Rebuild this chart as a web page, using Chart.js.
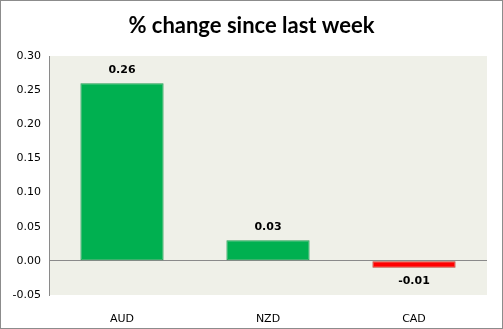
<!DOCTYPE html>
<html>
<head>
<meta charset="utf-8">
<script src="https://cdn.jsdelivr.net/npm/chart.js@4"></script>
<style>
  html, body { margin: 0; padding: 0; background: #fff; }
  #wrap { position: relative; width: 503px; height: 329px; }
  #frame { position: absolute; left: 0; top: 0; width: 501px; height: 327px; border: 1px solid #8c8c8c; pointer-events: none; }
</style>
</head>
<body>
<div id="wrap">
  <canvas id="myChart" width="503" height="329"></canvas>
  <div id="frame"></div>
</div>
<script>
const currencies = ['AUD', 'NZD', 'CAD'];
const changes = [0.26, 0.03, -0.01];
const yTicks = [-0.05, 0.00, 0.05, 0.10, 0.15, 0.20, 0.25, 0.30];
const chartTitle = '% change since last week';

const fillFor = (v) => v < 0 ? '#ff0000' : '#00b050';
const edgeFor = (v) => v < 0 ? '#c0392b' : '#1e9e50';

// light panel behind the plot
const plotBg = {
    id: 'plotBg',
    beforeDraw(chart) {
        const a = chart.chartArea, ctx = chart.ctx;
        ctx.save();
        ctx.fillStyle = '#eff0e8';
        ctx.fillRect(a.left, a.top, a.right - a.left, a.bottom - a.top);
        ctx.restore();
    }
};

// title centred on the whole canvas
const headTitle = {
    id: 'headTitle',
    afterDraw(chart) {
        const ctx = chart.ctx;
        ctx.save();
        ctx.font = 'bold 22px Lato';
        ctx.fillStyle = '#000';
        ctx.textAlign = 'center';
        ctx.textBaseline = 'middle';
        ctx.fillText(chartTitle, chart.width / 2, 26);
        ctx.restore();
    }
};

// value labels above (or below) each bar
const valueLabels = {
    id: 'valueLabels',
    afterDatasetsDraw(chart) {
        const ctx = chart.ctx;
        const meta = chart.getDatasetMeta(0);
        ctx.save();
        ctx.font = 'bold 11px "DejaVu Sans"';
        ctx.fillStyle = '#000';
        ctx.textAlign = 'center';
        ctx.textBaseline = 'middle';
        meta.data.forEach((bar, i) => {
            const v = changes[i];
            const y = v < 0 ? bar.y + 13 : bar.y - 13;
            ctx.fillText(v.toFixed(2), bar.x, y);
        });
        ctx.restore();
    }
};

const chartData = {
    labels: currencies,
    datasets: [{
        data: changes,
        backgroundColor: changes.map(fillFor),
        borderColor: changes.map(edgeFor),
        borderWidth: 1,
        borderSkipped: false,
        categoryPercentage: 1,
        barPercentage: 0.57
    }]
};

const config = {
    type: 'bar',
    data: chartData,
    options: {
        responsive: false,
        animation: false,
        layout: { padding: { left: 0, right: 16, top: 56, bottom: 0 } },
        plugins: {
            legend: { display: false },
            tooltip: { enabled: false },
            title: { display: false }
        },
        scales: {
            x: {
                grid: { display: false },
                border: { display: false },
                ticks: { color: '#000', font: { family: 'DejaVu Sans', size: 11 }, padding: 10 },
                afterFit(scale) { scale.height = 34; }
            },
            y: {
                min: -0.05,
                max: 0.30,
                afterBuildTicks(scale) { scale.ticks = yTicks.map(v => ({ value: v })); },
                grid: {
                    drawTicks: false,
                    color: (c) => c.tick && Math.abs(c.tick.value) < 1e-9 ? '#8a8a8a' : 'rgba(0,0,0,0)'
                },
                border: { display: true, color: '#8a8a8a' },
                ticks: {
                    color: '#000',
                    padding: 8,
                    font: { family: 'DejaVu Sans', size: 11 },
                    callback: (v) => Number(v).toFixed(2)
                },
                afterFit(scale) { scale.width = 49; }
            }
        }
    },
    plugins: [plotBg, headTitle, valueLabels]
};

const myChart = new Chart(document.getElementById('myChart'), config);
</script>
</body>
</html>
